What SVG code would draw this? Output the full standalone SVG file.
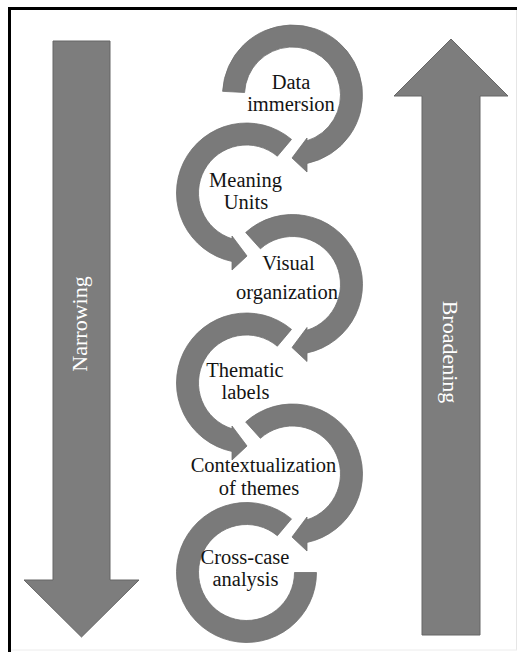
<svg xmlns="http://www.w3.org/2000/svg" width="525" height="652" viewBox="0 0 525 652">
<style>
.ring{fill:#7a7a7a;stroke:#6e6e6e;stroke-width:0.8}
.big{fill:#7d7d7d;stroke:#666;stroke-width:1}
.lbl{font-family:"Liberation Serif","Times New Roman",serif;font-size:20.5px;fill:#141414;text-anchor:middle}
.vlbl{font-family:"Liberation Serif","Times New Roman",serif;font-size:22px;fill:#ffffff;text-anchor:middle}
</style>
<rect x="0" y="0" width="525" height="652" fill="#ffffff"/>
<g id="frame">
<line x1="516.5" y1="10" x2="516.5" y2="650" stroke="#e6e6e6" stroke-width="1"/>
<line x1="10" y1="650" x2="517" y2="650" stroke="#ececec" stroke-width="1"/>
<line x1="9.5" y1="7" x2="9.5" y2="652" stroke="#000" stroke-width="3"/>
<line x1="8" y1="8.5" x2="517" y2="8.5" stroke="#000" stroke-width="3"/>
</g>
<g id="narrowing">
<polygon class="big" points="53,41 110,41 110,580 139,580 81.5,637 24,580 53,580"/>
<text class="vlbl" transform="translate(87,324) rotate(-90)">Narrowing</text>
</g>
<g id="broadening">
<polygon class="big" points="451,39 508,96 480,96 480,635 422,635 422,96 394,96"/>
<text class="vlbl" transform="translate(443,352) rotate(90)">Broadening</text>
</g>
<g id="data-immersion">
<path class="ring" d="M222.6,91.34 A70,70 0 1 1 307,163.48 L307,172 L292,158 L307,138 L307,140.76 A48,48 0 1 0 244.57,92.49 Z"/>
<text class="lbl" x="291" y="88.5">Data</text>
<text class="lbl" x="291" y="110.5">immersion</text>
</g>
<g id="meaning-units">
<path class="ring" d="M291.5,139.38 A70,70 0 1 0 232,261.48 L232,270 L247,256 L232,236 L232,238.76 A48,48 0 1 1 277.35,156.23 Z"/>
<text class="lbl" x="245.5" y="186.5">Meaning</text>
<text class="lbl" x="246" y="209">Units</text>
</g>
<g id="visual-organization">
<path class="ring" d="M245.66,232.48 A70,70 0 1 1 307,352.98 L307,361.5 L292,347.5 L307,327.5 L307,330.26 A48,48 0 1 0 260.38,248.83 Z"/>
<text class="lbl" x="288.5" y="270">Visual</text>
<text class="lbl" x="287" y="298.5">organization</text>
</g>
<g id="thematic-labels">
<path class="ring" d="M291.5,329.38 A70,70 0 1 0 232,451.48 L232,460 L247,446 L232,426 L232,428.76 A48,48 0 1 1 277.35,346.23 Z"/>
<text class="lbl" x="245" y="377">Thematic</text>
<text class="lbl" x="245.5" y="399">labels</text>
</g>
<g id="contextualization">
<path class="ring" d="M245.66,421.98 A70,70 0 1 1 307,542.48 L307,551 L292,537 L307,517 L307,519.76 A48,48 0 1 0 260.38,438.33 Z"/>
<text class="lbl" x="263.5" y="472">Contextualization</text>
<text class="lbl" x="259" y="495">of themes</text>
</g>
<g id="cross-case">
<path class="ring" d="M291.5,518.88 A70,70 0 1 0 316.5,572.5 L294.5,572.5 A48,48 0 1 1 277.35,535.73 Z"/>
<text class="lbl" x="245" y="564">Cross-case</text>
<text class="lbl" x="245.5" y="586">analysis</text>
</g>
</svg>
